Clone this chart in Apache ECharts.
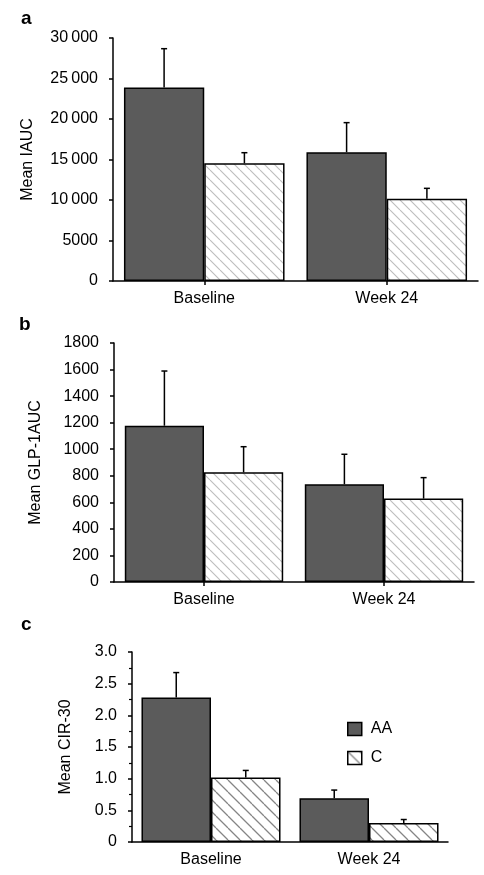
<!DOCTYPE html>
<html>
<head>
<meta charset="utf-8">
<script src="https://cdn.jsdelivr.net/npm/echarts@6/dist/echarts.min.js"></script>
<style>html,body{margin:0;padding:0;background:#fff;}#c{width:484px;height:875px;}</style>
</head>
<body>
<div id="c"></div>
<script>
// ---- data ----
const categories = ['Baseline', 'Week 24'];
const seriesNames = ['AA', 'C'];
// panel a: Mean IAUC
const iaucAA = [23900, 15900];
const iaucAAErr = [4780, 3650];
const iaucC = [14530, 10160];
const iaucCErr = [1310, 1280];
// panel b: Mean GLP-1AUC
const glpAA = [1177, 736];
const glpAAErr = [412, 226];
const glpC = [826, 628];
const glpCErr = [193, 158];
// panel c: Mean CIR-30
const cirAA = [2.28, 0.69];
const cirAAErr = [0.395, 0.13];
const cirC = [1.02, 0.30];
const cirCErr = [0.11, 0.055];
const panelLabels = ['a', 'b', 'c'];
const yNames = ['Mean IAUC', 'Mean GLP-1AUC', 'Mean CIR-30'];
const yMax = [30000, 1800, 3.0];
const yStep = [5000, 200, 0.5];

// ---- styling helpers ----
const FONT = '"Liberation Sans", Arial, Helvetica, sans-serif';
function hatch(s, color, lw) {
  const c = document.createElement('canvas');
  c.width = s; c.height = s;
  const g = c.getContext('2d');
  g.fillStyle = '#fff'; g.fillRect(0, 0, s, s);
  g.strokeStyle = color; g.lineWidth = lw;
  g.beginPath();
  for (const k of [-s, 0, s]) { g.moveTo(k, 0); g.lineTo(k + s, s); }
  g.stroke();
  return c;
}
const hatchLight = { image: hatch(10, '#bdbdbd', 1.1), repeat: 'repeat' };
const hatchDark = { image: hatch(12, '#858585', 1.3), repeat: 'repeat' };
const darkFill = '#5b5b5b';
const CAT_GAP = 0.12;

const grids = [
  { left: 113, top: 38, width: 365, height: 243 },
  { left: 114, top: 343, width: 360, height: 239 },
  { left: 132, top: 652, width: 316, height: 190 }
];
const nameGaps = [77, 70, 58];

function fmtY(i) {
  return function (v) {
    if (i === 2) return v === 0 ? '0' : v.toFixed(1);
    if (v >= 10000) { const s = String(v); return s.slice(0, s.length - 3) + '\u2009' + s.slice(-3); }
    return String(v);
  };
}

function errRenderer(side) {
  return function (params, api) {
    const band = api.size([1, 0])[0];
    const bw = band * (1 - CAT_GAP) / 2;
    const idx = api.value(0), val = api.value(1), err = api.value(2);
    const p0 = api.coord([idx, val]);
    const p1 = api.coord([idx, val + err]);
    const x = p0[0] + side * bw / 2;
    const st = { stroke: '#000', lineWidth: 1.5 };
    return {
      type: 'group',
      children: [
        { type: 'line', shape: { x1: x, y1: p0[1], x2: x, y2: p1[1] }, style: st },
        { type: 'line', shape: { x1: x - 3, y1: p1[1], x2: x + 3, y2: p1[1] }, style: st }
      ]
    };
  };
}

const panels = [
  { aa: iaucAA, aaErr: iaucAAErr, c: iaucC, cErr: iaucCErr, hatch: hatchLight },
  { aa: glpAA, aaErr: glpAAErr, c: glpC, cErr: glpCErr, hatch: hatchLight },
  { aa: cirAA, aaErr: cirAAErr, c: cirC, cErr: cirCErr, hatch: hatchDark }
];

const series = [];
panels.forEach((p, i) => {
  series.push({
    name: seriesNames[0], type: 'bar', xAxisIndex: i, yAxisIndex: i, data: p.aa,
    barGap: '0%', barCategoryGap: (CAT_GAP * 100) + '%',
    itemStyle: { color: darkFill, borderColor: '#000', borderWidth: 1.5 }, z: 2
  });
  series.push({
    name: seriesNames[1], type: 'bar', xAxisIndex: i, yAxisIndex: i, data: p.c,
    barGap: '0%', barCategoryGap: (CAT_GAP * 100) + '%',
    itemStyle: { color: p.hatch, borderColor: '#000', borderWidth: 1.5 }, z: 2
  });
  series.push({
    type: 'custom', xAxisIndex: i, yAxisIndex: i, z: 5,
    renderItem: errRenderer(-1), encode: { x: 0, y: 1 },
    data: categories.map((c, j) => [j, p.aa[j], p.aaErr[j]])
  });
  series.push({
    type: 'custom', xAxisIndex: i, yAxisIndex: i, z: 5,
    renderItem: errRenderer(1), encode: { x: 0, y: 1 },
    data: categories.map((c, j) => [j, p.c[j], p.cErr[j]])
  });
});

const option = {
  animation: false,
  backgroundColor: '#fff',
  textStyle: { fontFamily: FONT, color: '#000' },
  grid: grids,
  xAxis: grids.map((g, i) => ({
    type: 'category', gridIndex: i, data: categories,
    axisLine: { show: true, lineStyle: { color: '#000', width: 1.5 } },
    axisTick: { show: i < 2, alignWithLabel: true, length: 4, lineStyle: { color: '#000', width: 1.5 } },
    axisLabel: { color: '#000', fontSize: 16, margin: 10, fontFamily: FONT }
  })),
  yAxis: grids.map((g, i) => ({
    type: 'value', gridIndex: i, min: 0, max: yMax[i], interval: yStep[i],
    name: yNames[i], nameLocation: 'middle', nameGap: nameGaps[i],
    nameTextStyle: { fontSize: 16, color: '#000', fontFamily: FONT },
    axisLine: { show: true, lineStyle: { color: '#000', width: 1.5 } },
    axisTick: { show: true, length: 4, lineStyle: { color: '#000', width: 1.5 } },
    minorTick: { show: i === 2, splitNumber: 2, length: 3, lineStyle: { color: '#000', width: 1.2 } },
    axisLabel: { color: '#000', fontSize: 16, margin: 15, fontFamily: FONT, formatter: fmtY(i) },
    splitLine: { show: false }
  })),
  legend: {
    orient: 'vertical', left: 347, top: 721, padding: 0,
    itemWidth: 14, itemHeight: 13, itemGap: 13, icon: 'rect', selectedMode: false,
    textStyle: { fontSize: 16, color: '#000', fontFamily: FONT, padding: [0, 0, 0, 4] },
    data: [
      { name: 'AA', itemStyle: { color: darkFill, borderColor: '#000', borderWidth: 1.5 } },
      { name: 'C', itemStyle: { color: hatchDark, borderColor: '#000', borderWidth: 1.5 } }
    ]
  },
  graphic: [
    { type: 'text', x: 21, y: 19, style: { text: panelLabels[0], font: 'bold 19px ' + FONT, fill: '#000', verticalAlign: 'middle' } },
    { type: 'text', x: 19, y: 325, style: { text: panelLabels[1], font: 'bold 19px ' + FONT, fill: '#000', verticalAlign: 'middle' } },
    { type: 'text', x: 21, y: 625, style: { text: panelLabels[2], font: 'bold 19px ' + FONT, fill: '#000', verticalAlign: 'middle' } }
  ],
  series: series
};

const chart = echarts.init(document.getElementById('c'), null, { renderer: 'canvas' });
chart.setOption(option);
</script>
</body>
</html>
